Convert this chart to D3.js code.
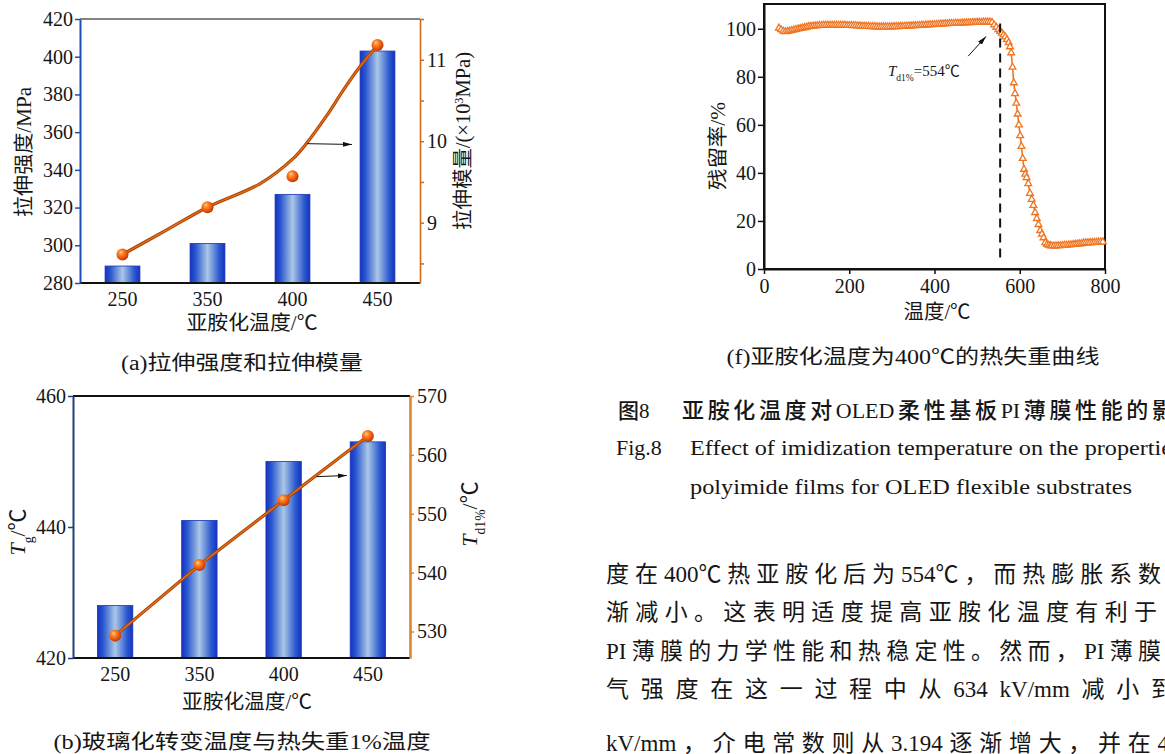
<!DOCTYPE html>
<html>
<head>
<meta charset="utf-8">
<script src="https://cdn.jsdelivr.net/npm/d3@7"></script>
<style>
  body { margin: 0; background: #fff; }
  svg { display: block; }
  text { font-family: "Liberation Serif", "Noto Sans CJK SC", serif; fill: #161616; }
</style>
</head>
<body>
<svg id="page" width="1165" height="754"></svg>
<script>
// ---------------- data ----------------
const imidTemps = ["250", "350", "400", "450"];          // imidization temperature, °C

// (a) tensile strength (bars, MPa) and tensile modulus (spheres, ×10³ MPa)
const tensileStrength = [289, 301, 327, 403];
const tensileModulus = [8.61, 9.19, 9.57, 11.18];
// fitted modulus trend, sampled along the category index 0..3
const modulusFitIndex = [0, 0.5, 1, 1.62, 2, 2.17, 2.4, 2.6, 2.79, 3];
const modulusFitValue = [8.61, 8.90, 9.19, 9.48, 9.78, 9.98, 10.31, 10.63, 10.91, 11.18];
const strengthTicks = [280, 300, 320, 340, 360, 380, 400, 420];
const modulusTicks = [8.5, 9, 9.5, 10, 10.5, 11, 11.5];
const modulusLabels = [9, 10, 11];

// (b) glass transition temperature (bars) and 1 % weight-loss temperature (spheres)
const glassTransition = [428, 441, 450, 453];
const weightLoss1 = [529.3, 541.3, 552.3, 563.2];
const tgTicks = [420, 440, 460];
const tdTicks = [530, 540, 550, 560, 570];

// (f) TGA curve of the film imidized at 400 °C
const tgaTemp = [
  35, 40, 45, 50, 55, 60, 65, 70, 75, 80,
  85, 90, 95, 100, 105, 110, 115, 120, 125, 130,
  135, 140, 145, 150, 155, 160, 165, 170, 175, 180,
  185, 190, 195, 200, 205, 210, 215, 220, 225, 230,
  235, 240, 245, 250, 255, 260, 265, 270, 275, 280,
  285, 290, 295, 300, 305, 310, 315, 320, 325, 330,
  335, 340, 345, 350, 355, 360, 365, 370, 375, 380,
  385, 390, 395, 400, 405, 410, 415, 420, 425, 430,
  435, 440, 445, 450, 455, 460, 465, 470, 475, 480,
  485, 490, 495, 500, 505, 510, 515, 520, 525, 530,
  535, 540, 545, 550, 554, 558, 562, 566, 570, 574,
  577, 580, 583, 586, 589, 592, 595, 598, 601, 604,
  607, 610, 613, 616, 620, 624, 628, 632, 636, 640,
  644, 648, 652, 656, 660, 664, 668, 672, 675, 680,
  685, 690, 695, 700, 705, 710, 715, 720, 725, 730,
  735, 740, 745, 750, 755, 760, 765, 770, 775, 780,
  785, 790, 795
];
const tgaResidue = [
  100.3, 99.6, 99.0, 98.8, 98.9, 99.1, 99.3, 99.5, 99.7, 99.9,
  100.1, 100.3, 100.5, 100.7, 100.9, 101.0, 101.1, 101.2, 101.3, 101.4,
  101.4, 101.5, 101.5, 101.5, 101.5, 101.5, 101.5, 101.5, 101.5, 101.5,
  101.5, 101.5, 101.4, 101.4, 101.4, 101.3, 101.3, 101.2, 101.2, 101.1,
  101.1, 101.0, 101.0, 100.9, 100.9, 100.9, 100.8, 100.8, 100.8, 100.8,
  100.8, 100.8, 100.8, 100.8, 100.9, 100.9, 100.9, 101.0, 101.0, 101.1,
  101.1, 101.2, 101.2, 101.3, 101.3, 101.4, 101.4, 101.5, 101.5, 101.6,
  101.6, 101.7, 101.7, 101.8, 101.8, 101.9, 102.0, 102.0, 102.1, 102.1,
  102.2, 102.2, 102.2, 102.3, 102.3, 102.3, 102.4, 102.4, 102.5, 102.5,
  102.5, 102.6, 102.6, 102.7, 102.7, 102.7, 102.8, 102.8, 102.8, 102.8,
  102.6, 101.6, 100.6, 99.6, 98.9, 98.2, 97.4, 96.6, 95.5, 94.2,
  92.5, 90.0, 84.0, 77.5, 73.0, 69.0, 64.5, 60.0, 55.5, 51.0,
  46.0, 41.5, 39.5, 38.0, 35.5, 31.5, 29.0, 26.5, 23.5, 21.0,
  18.5, 16.0, 14.5, 13.0, 11.0, 10.2, 9.9, 9.7, 9.6, 9.6,
  9.6, 9.7, 9.7, 9.8, 9.9, 9.9, 10.0, 10.1, 10.2, 10.3,
  10.4, 10.5, 10.6, 10.8, 10.9, 10.9, 11.0, 11.0, 11.1, 11.1,
  11.2, 11.3, 11.3
];
const tgaXTicks = [0, 200, 400, 600, 800];
const tgaYTicks = [0, 20, 40, 60, 80, 100];
const td1Value = 554;

// ---------------- shared setup ----------------
const SERIF = '"Liberation Serif", "Noto Sans CJK SC", serif';
const svg = d3.select("#page");
svg.append("rect").attr("width", 1165).attr("height", 754).attr("fill", "#fff");
const defs = svg.append("defs");

const barGrad = defs.append("linearGradient").attr("id", "barFill")
  .attr("x1", 0).attr("x2", 1).attr("y1", 0).attr("y2", 0);
[[0, "#1432c2"], [0.16, "#2a58cf"], [0.5, "#abc7e6"], [0.84, "#2a58cf"], [1, "#1432c2"]]
  .forEach(([o, c]) => barGrad.append("stop").attr("offset", o).attr("stop-color", c));

const ball = defs.append("radialGradient").attr("id", "ball")
  .attr("cx", 0.42).attr("cy", 0.4).attr("r", 0.62).attr("fx", 0.36).attr("fy", 0.3);
[[0, "#ffd28a"], [0.3, "#ff8a2c"], [0.75, "#e2500c"], [1, "#b43200"]]
  .forEach(([o, c]) => ball.append("stop").attr("offset", o).attr("stop-color", c));

defs.append("marker").attr("id", "arrowHead")
  .attr("viewBox", "0 0 10 6").attr("refX", 10).attr("refY", 3)
  .attr("markerWidth", 9).attr("markerHeight", 5.4).attr("markerUnits", "userSpaceOnUse")
  .attr("orient", "auto")
  .append("path").attr("d", "M0,0.3 L10,3 L0,5.7 Z").attr("fill", "#111");

function styleAxis(g, color, width, fontSize) {
  g.attr("font-family", SERIF).attr("font-size", fontSize);
  g.select(".domain").attr("stroke", color).attr("stroke-width", width);
  g.selectAll(".tick line").attr("stroke", color).attr("stroke-width", Math.min(width, 1.5));
  g.selectAll(".tick text").attr("fill", "#141414");
}

function addText(x, y, str, opts = {}) {
  const t = svg.append("text").attr("x", x).attr("y", y)
    .attr("font-size", opts.size || 20)
    .attr("text-anchor", opts.anchor || "middle")
    .text(str);
  if (opts.length) t.attr("textLength", opts.length).attr("lengthAdjust", opts.adjust || "spacingAndGlyphs");
  if (opts.weight) t.attr("font-weight", opts.weight);
  if (opts.rotate) t.attr("transform", `rotate(-90,${x},${y})`);
  return t;
}

// justified line: CJK characters spread evenly, Latin/number runs kept whole
function justifyLine(str, x0, y, width, size, weight) {
  const toks = str.match(/[A-Za-z0-9.\/%℃]+|[^\sA-Za-z0-9.\/%℃]/g);
  const t = svg.append("text").attr("y", y).attr("font-size", size);
  if (weight) t.attr("font-weight", weight);
  const spans = toks.map(s => t.append("tspan").text(s));
  const w = spans.map(s => s.node().getComputedTextLength());
  const gap = (width - d3.sum(w)) / (toks.length - 1);
  let x = x0;
  spans.forEach((s, i) => { s.attr("x", x); x += w[i] + gap; });
  return t;
}

// rotated title made of an italic T with a subscript and a unit
function symbolTitle(x, y, sub, size) {
  const t = svg.append("text").attr("x", x).attr("y", y).attr("font-size", size)
    .attr("text-anchor", "middle").attr("transform", `rotate(-90,${x},${y})`);
  t.append("tspan").attr("font-style", "italic").text("T");
  t.append("tspan").attr("font-size", size * 0.62).attr("baseline-shift", "sub").text(sub);
  t.append("tspan").text("/℃");
  return t;
}

// ---------------- (a) tensile strength and modulus ----------------
{
  const P = { left: 80, right: 420, top: 19, bottom: 283 };
  const x = d3.scaleBand().domain(imidTemps).range([P.left, P.right]).paddingInner(0.59).paddingOuter(0.295);
  const yS = d3.scaleLinear().domain([280, 420]).range([P.bottom, P.top]);
  const yM = d3.scaleLinear().domain([8.26, 11.5]).range([P.bottom, P.top]);
  const cx = d => x(d) + x.bandwidth() / 2;
  const xi = d3.scaleLinear().domain([0, imidTemps.length - 1]).range([cx(imidTemps[0]), cx(imidTemps[imidTemps.length - 1])]);

  svg.append("g").selectAll("rect").data(tensileStrength).join("rect")
    .attr("x", (d, i) => x(imidTemps[i])).attr("width", x.bandwidth())
    .attr("y", d => yS(d)).attr("height", d => P.bottom - yS(d))
    .attr("fill", "url(#barFill)").attr("stroke", "#1b36b4").attr("stroke-width", 0.8);

  // frame: top edge and bottom axis line
  svg.append("line").attr("x1", P.left).attr("x2", P.right).attr("y1", P.top).attr("y2", P.top)
    .attr("stroke", "#5a5a5a").attr("stroke-width", 1.5);
  svg.append("line").attr("x1", P.left).attr("x2", P.right).attr("y1", P.bottom).attr("y2", P.bottom)
    .attr("stroke", "#111").attr("stroke-width", 2.2);

  const gL = svg.append("g").attr("transform", `translate(${P.left},0)`)
    .call(d3.axisLeft(yS).tickValues(strengthTicks).tickSize(5).tickSizeOuter(0).tickPadding(2));
  styleAxis(gL, "#1f4fb4", 2, 20);

  const gR = svg.append("g").attr("transform", `translate(${P.right},0)`)
    .call(d3.axisRight(yM).tickValues(modulusTicks).tickSize(4).tickSizeOuter(0).tickPadding(3)
      .tickFormat(d => modulusLabels.includes(d) ? d : ""));
  styleAxis(gR, "#cf6a18", 1.6, 20);

  const gB = svg.append("g").attr("transform", `translate(0,${P.bottom})`)
    .call(d3.axisBottom(x).tickSize(0).tickPadding(9));
  styleAxis(gB, "none", 0, 20);
  gB.select(".domain").remove();

  // fitted modulus curve
  const fit = d3.line().x(d => xi(d[0])).y(d => yM(d[1])).curve(d3.curveCatmullRom.alpha(0.5));
  const fitPts = modulusFitIndex.map((v, i) => [v, modulusFitValue[i]]);
  svg.append("path").attr("d", fit(fitPts)).attr("fill", "none").attr("stroke", "#a84300").attr("stroke-width", 3.2);
  svg.append("path").attr("d", fit(fitPts)).attr("fill", "none").attr("stroke", "#e8701c").attr("stroke-width", 1.3);

  svg.append("g").selectAll("circle").data(tensileModulus).join("circle")
    .attr("cx", (d, i) => cx(imidTemps[i])).attr("cy", d => yM(d)).attr("r", 6)
    .attr("fill", "url(#ball)");

  // arrow pointing the curve to the right-hand axis
  svg.append("line")
    .attr("x1", xi(2.17)).attr("y1", yM(9.97)).attr("x2", xi(2.7)).attr("y2", yM(9.96))
    .attr("stroke", "#111").attr("stroke-width", 1).attr("marker-end", "url(#arrowHead)");

  addText(31, 152, "拉伸强度/MPa", { rotate: true, length: 130 });
  const rt = svg.append("text").attr("x", 470).attr("y", 141).attr("font-size", 20)
    .attr("text-anchor", "middle").attr("transform", "rotate(-90,470,141)")
    .attr("textLength", 178).attr("lengthAdjust", "spacingAndGlyphs");
  rt.append("tspan").text("拉伸模量/(×10");
  rt.append("tspan").attr("font-size", 12).attr("baseline-shift", "super").text("3");
  rt.append("tspan").text("MPa)");
  addText(252, 330, "亚胺化温度/℃", { length: 131 });
  addText(242, 370, "(a)拉伸强度和拉伸模量", { length: 242 });
}

// ---------------- (b) Tg and Td1% ----------------
{
  const P = { left: 73, right: 410, top: 396, bottom: 658 };
  const x = d3.scaleBand().domain(imidTemps).range([P.left, P.right]).paddingInner(0.58).paddingOuter(0.29);
  const yG = d3.scaleLinear().domain([420, 460]).range([P.bottom, P.top]);
  const yD = d3.scaleLinear().domain([525.5, 570]).range([P.bottom, P.top]);
  const cx = d => x(d) + x.bandwidth() / 2;
  const xi = d3.scaleLinear().domain([0, imidTemps.length - 1]).range([cx(imidTemps[0]), cx(imidTemps[imidTemps.length - 1])]);

  svg.append("g").selectAll("rect").data(glassTransition).join("rect")
    .attr("x", (d, i) => x(imidTemps[i])).attr("width", x.bandwidth())
    .attr("y", d => yG(d)).attr("height", d => P.bottom - yG(d))
    .attr("fill", "url(#barFill)").attr("stroke", "#1b36b4").attr("stroke-width", 0.8);

  svg.append("line").attr("x1", P.left).attr("x2", P.right).attr("y1", P.top).attr("y2", P.top)
    .attr("stroke", "#111").attr("stroke-width", 2);
  svg.append("line").attr("x1", P.left).attr("x2", P.right).attr("y1", P.bottom).attr("y2", P.bottom)
    .attr("stroke", "#111").attr("stroke-width", 2.2);

  const gL = svg.append("g").attr("transform", `translate(${P.left},0)`)
    .call(d3.axisLeft(yG).tickValues(tgTicks).tickSize(5).tickSizeOuter(0).tickPadding(2));
  styleAxis(gL, "#223f7c", 2, 20);

  const gR = svg.append("g").attr("transform", `translate(${P.right},0)`)
    .call(d3.axisRight(yD).tickValues(tdTicks).tickSize(4).tickSizeOuter(0).tickPadding(3));
  styleAxis(gR, "#e0842e", 2.6, 20);

  const gB = svg.append("g").attr("transform", `translate(0,${P.bottom})`)
    .call(d3.axisBottom(x).tickSize(0).tickPadding(9));
  styleAxis(gB, "none", 0, 20);
  gB.select(".domain").remove();

  const ln = d3.line().x((d, i) => cx(imidTemps[i])).y(d => yD(d));
  svg.append("path").attr("d", ln(weightLoss1)).attr("fill", "none").attr("stroke", "#a84300").attr("stroke-width", 3.2);
  svg.append("path").attr("d", ln(weightLoss1)).attr("fill", "none").attr("stroke", "#e8701c").attr("stroke-width", 1.3);

  svg.append("g").selectAll("circle").data(weightLoss1).join("circle")
    .attr("cx", (d, i) => cx(imidTemps[i])).attr("cy", d => yD(d)).attr("r", 6)
    .attr("fill", "url(#ball)");

  svg.append("line")
    .attr("x1", xi(2.39)).attr("y1", yD(556.3)).attr("x2", xi(2.75)).attr("y2", yD(556.5))
    .attr("stroke", "#111").attr("stroke-width", 1).attr("marker-end", "url(#arrowHead)");

  symbolTitle(25, 532, "g", 22);
  symbolTitle(477, 514, "d1%", 22);
  addText(247, 709, "亚胺化温度/℃", { length: 130 });
  addText(242, 749, "(b)玻璃化转变温度与热失重1%温度", { length: 377 });
}

// ---------------- (f) TGA curve ----------------
{
  const P = { left: 764, right: 1105, top: 4, bottom: 269 };
  const x = d3.scaleLinear().domain([0, 800]).range([P.left, P.right]);
  const y = d3.scaleLinear().domain([0, 110.3]).range([P.bottom, P.top]);

  const gL = svg.append("g").attr("transform", `translate(${P.left},0)`)
    .call(d3.axisLeft(y).tickValues(tgaYTicks).tickSize(6).tickSizeOuter(0).tickPadding(2));
  styleAxis(gL, "#111", 2, 20);
  const gB = svg.append("g").attr("transform", `translate(0,${P.bottom})`)
    .call(d3.axisBottom(x).tickValues(tgaXTicks).tickSize(5).tickSizeOuter(0).tickPadding(5));
  styleAxis(gB, "#111", 2, 20);

  svg.append("rect").attr("x", P.left).attr("y", P.top)
    .attr("width", P.right - P.left).attr("height", P.bottom - P.top)
    .attr("fill", "none").attr("stroke", "#111").attr("stroke-width", 2);

  const pts = tgaTemp.map((t, i) => [t, tgaResidue[i]]);
  svg.append("path").attr("d", d3.line().x(d => x(d[0])).y(d => y(d[1]))(pts))
    .attr("fill", "none").attr("stroke", "#f07522").attr("stroke-width", 1.6);
  const tri = d3.symbol().type(d3.symbolTriangle).size(20);
  svg.append("g").selectAll("path").data(pts).join("path")
    .attr("transform", d => `translate(${x(d[0])},${y(d[1])})`)
    .attr("d", tri).attr("fill", "#fff").attr("stroke", "#f07522").attr("stroke-width", 1.3);

  // onset marker
  svg.append("line").attr("x1", x(td1Value)).attr("x2", x(td1Value))
    .attr("y1", y(102.2)).attr("y2", y(3.6))
    .attr("stroke", "#111").attr("stroke-width", 2).attr("stroke-dasharray", "9,6");
  svg.append("line").attr("x1", x(479)).attr("y1", y(88.6)).attr("x2", x(521)).attr("y2", y(96.8))
    .attr("stroke", "#111").attr("stroke-width", 1).attr("marker-end", "url(#arrowHead)");
  const ann = svg.append("text").attr("x", 888).attr("y", 76).attr("font-size", 15);
  ann.append("tspan").attr("font-style", "italic").text("T");
  ann.append("tspan").attr("font-size", 9.5).attr("baseline-shift", "sub").text("d1%");
  ann.append("tspan").text("=" + td1Value + "℃");

  addText(725, 146, "残留率/%", { rotate: true, length: 88 });
  addText(937, 319, "温度/℃", { length: 67 });
  addText(913, 364, "(f)亚胺化温度为400℃的热失重曲线", { length: 373 });
}

// ---------------- figure caption and running text ----------------
addText(618, 418, "图8", { anchor: "start", size: 21, weight: 500 });
justifyLine("亚胺化温度对OLED柔性基板PI薄膜性能的影", 682, 418, 492, 22, 500);
addText(616, 455, "Fig.8", { anchor: "start", size: 22 });
addText(690, 455, "Effect of imidization temperature on the propertie", { anchor: "start", size: 22, length: 482 });
addText(690, 494, "polyimide films for OLED flexible substrates", { anchor: "start", size: 22, length: 442 });

const bodyLines = [
  "度在400℃热亚胺化后为554℃，而热膨胀系数",
  "渐减小。这表明适度提高亚胺化温度有利于",
  "PI薄膜的力学性能和热稳定性。然而，PI薄膜",
  "气强度在这一过程中从634 kV/mm减小到",
  "kV/mm，介电常数则从3.194逐渐增大，并在4"
];
const bodyBase = [582, 620, 659, 697, 751];
const bodyWidth = [555, 551, 555, 568, 563];
bodyLines.forEach((s, i) => justifyLine(s, 606, bodyBase[i], bodyWidth[i], 23));
</script>
</body>
</html>
